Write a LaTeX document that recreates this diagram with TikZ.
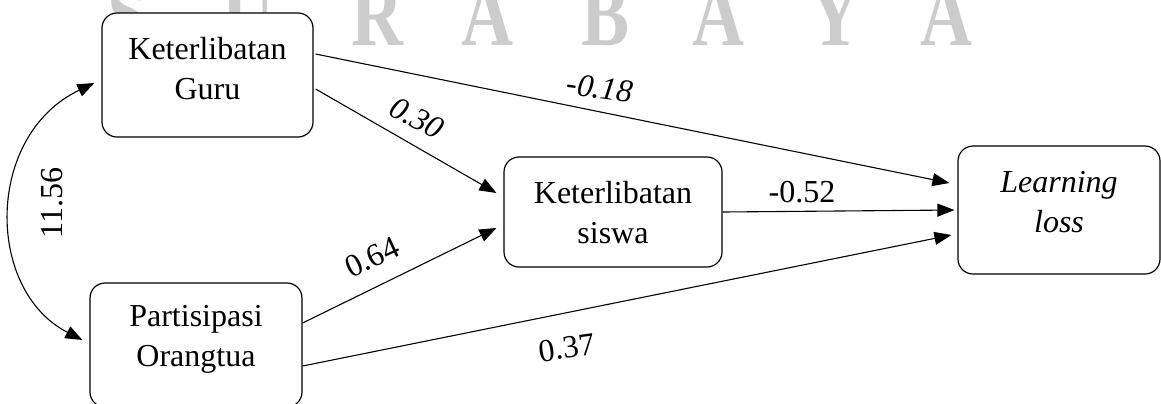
\documentclass[tikz,border=0pt]{standalone}
\usepackage{fontspec}
\setmainfont{Liberation Serif}
\usetikzlibrary{arrows.meta,calc}

\begin{document}
\begin{tikzpicture}[x=0.5pt,y=-0.5pt,
  box/.style={draw, fill=white, rounded corners=7.5pt, line width=0.6pt, inner sep=0pt},
  txt/.style={font=\fontsize{16}{20}\selectfont, align=center, inner sep=0pt},
  lbl/.style={font=\fontsize{16}{20}\selectfont, inner sep=0pt},
  pth/.style={line width=0.55pt, -{Triangle[length=8.5pt,width=6.5pt]}},
  wm/.style={font=\bfseries\fontsize{40}{40}\selectfont, text=black!20, anchor=base,
    inner sep=0pt, xscale=0.9, yscale=1.15}]
\useasboundingbox (0,0) rectangle (1161,403);
\clip (0,0) rectangle (1161,403);

% faded letters across the top
\foreach \ch/\xx [count=\i] in {S/128, U/248, R/377, A/487, B/606, A/718, Y/835, A/946}
  \node[wm] (w\i) at (\xx,45) {\ch};

% variable boxes
\node[box, minimum width=105.5pt, minimum height=62pt] (gb) at (207.5,75) {};
\node[box, minimum width=106pt, minimum height=62pt] (ot) at (196,345) {};
\node[box, minimum width=109pt, minimum height=55pt] (sw) at (613,212) {};
\node[box, minimum width=101pt, minimum height=64pt] (ll) at (1059,210) {};

\node[txt] (tgb) at (207.5,69) {Keterlibatan\\Guru};
\node[txt] (tot) at (196,339) {Partisipasi\\Orangtua};
\node[txt] (tsw) at (613,213) {Keterlibatan\\siswa};
\node[txt] (tll) at (1059,202) {\itshape Learning\\\itshape loss};

% paths between the variables
\draw[pth] ($(gb.east)+(2,-21)$) -- ($(ll.west)+(-8,-27)$);
\draw[pth] ($(gb.east)+(2,14)$) -- ($(sw.west)+(-7,-19)$);
\draw[pth] (sw.east) -- ($(ll.west)+(-3,0)$);
\draw[pth] ($(ot.east)+(0,-22)$) -- ($(sw.west)+(-7,16)$);
\draw[pth] ($(ot.east)+(0,21)$) -- ($(ll.west)+(-6,25)$);

% covariance between the two exogenous variables
\draw[line width=0.55pt, {Triangle[length=8.5pt,width=6.5pt]}-{Triangle[length=8.5pt,width=6.5pt]}]
  ($(gb.west)+(-7,8)$) .. controls (-15,135) and (-15,290) .. ($(ot.west)+(-7,-5)$);

% coefficients
\node[lbl, rotate=-8] (c1) at (600,88) {\itshape -0.18};
\node[lbl, rotate=-28] (c2) at (417,118) {\itshape 0.30};
\node[lbl] (c3) at (802,192) {-0.52};
\node[lbl, rotate=25] (c4) at (372,257) {0.64};
\node[lbl, rotate=8] (c5) at (567,348) {0.37};
\node[lbl, rotate=90] (c6) at (52,203) {11.56};
\end{tikzpicture}
\end{document}
